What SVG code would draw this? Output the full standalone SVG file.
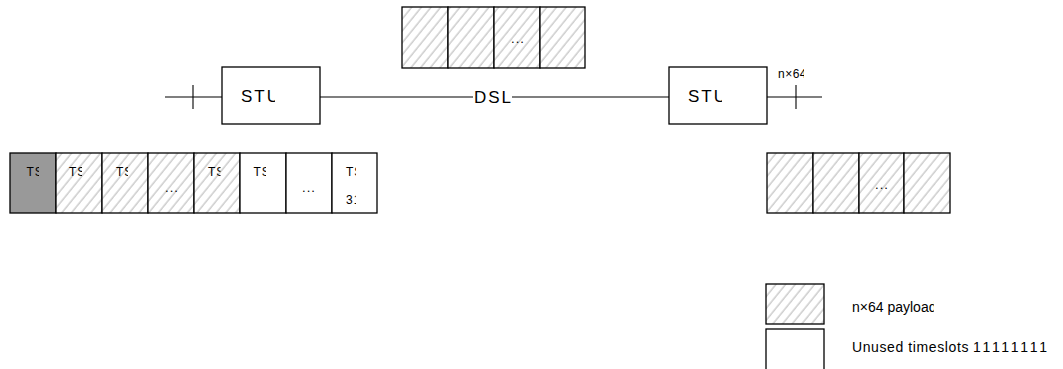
<svg xmlns="http://www.w3.org/2000/svg" width="1063" height="369" viewBox="0 0 1063 369">
<style>
.box{fill:#fff;stroke:#000;stroke-width:1.3}
.hat{fill:url(#hatch);stroke:#000;stroke-width:1.3}
.gray{fill:#999;stroke:#000;stroke-width:1.3}
.ln{stroke:#000;stroke-width:1.1;fill:none}
text{font-family:"Liberation Sans",Arial,sans-serif;fill:#000}
.big{font-size:17px;letter-spacing:2px}
.ts{font-size:12px;letter-spacing:1px}
.sm{font-size:12px;letter-spacing:0.5px}
.lg{font-size:14px}
.lgs{font-size:14px;letter-spacing:0.6px}
.dots{font-size:13px;text-anchor:middle;letter-spacing:1px}
</style>
<defs>
<pattern id="hatch" patternUnits="userSpaceOnUse" width="7.5" height="10" patternTransform="rotate(39)">
<rect width="7.5" height="10" fill="#fff"/>
<line x1="2" y1="0" x2="2" y2="10" stroke="#bbb" stroke-width="1.1"/>
</pattern>
<clipPath id="cStu1"><rect x="230" y="80" width="45" height="30"/></clipPath>
<clipPath id="cStu2"><rect x="677" y="80" width="45" height="30"/></clipPath>
<clipPath id="cN64"><rect x="770" y="64" width="34" height="18"/></clipPath>
<clipPath id="cT1"><rect x="20" y="160" width="19" height="40"/></clipPath>
<clipPath id="cT2"><rect x="64" y="160" width="18" height="40"/></clipPath>
<clipPath id="cT3"><rect x="110" y="160" width="18" height="40"/></clipPath>
<clipPath id="cT5"><rect x="202" y="160" width="18.5" height="40"/></clipPath>
<clipPath id="cT6"><rect x="248" y="160" width="18" height="40"/></clipPath>
<clipPath id="cT8"><rect x="340" y="160" width="16" height="50"/></clipPath>
<clipPath id="cLeg"><rect x="845" y="295" width="89" height="25"/></clipPath>
</defs>

<g id="connectors">
<line class="ln" x1="165" y1="97" x2="222" y2="97"/>
<line class="ln" x1="193" y1="85" x2="193" y2="109"/>
<line class="ln" x1="320" y1="97" x2="473" y2="97"/>
<line class="ln" x1="512" y1="97" x2="669" y2="97"/>
<line class="ln" x1="767" y1="97" x2="822" y2="97"/>
<line class="ln" x1="796" y1="85" x2="796" y2="109"/>
<text class="big" x="474" y="103">DSL</text>
<text class="sm" x="778" y="78" clip-path="url(#cN64)">n×64</text>
</g>

<g id="top-frames">
<rect class="hat" x="402" y="7" width="46" height="61"/>
<rect class="hat" x="448" y="7" width="46" height="61"/>
<rect class="hat" x="494" y="7" width="46" height="61"/>
<rect class="hat" x="540" y="7" width="45" height="61"/>
<text class="dots" x="518" y="43">...</text>
</g>

<g id="stu-left">
<rect class="box" x="222" y="67" width="98" height="57"/>
<text class="big" x="241" y="102" clip-path="url(#cStu1)">STU</text>
</g>

<g id="stu-right">
<rect class="box" x="669" y="67" width="98" height="57"/>
<text class="big" x="688" y="102" clip-path="url(#cStu2)">STU</text>
</g>

<g id="timeslots-left">
<rect class="gray" x="10" y="153" width="46" height="60"/>
<rect class="hat" x="56" y="153" width="46" height="60"/>
<rect class="hat" x="102" y="153" width="46" height="60"/>
<rect class="hat" x="148" y="153" width="46" height="60"/>
<rect class="hat" x="194" y="153" width="46" height="60"/>
<rect class="box" x="240" y="153" width="46" height="60"/>
<rect class="box" x="286" y="153" width="46" height="60"/>
<rect class="box" x="332" y="153" width="45" height="60"/>
<text class="ts" x="26.5" y="176" clip-path="url(#cT1)">TS0</text>
<text class="ts" x="69" y="176" clip-path="url(#cT2)">TS1</text>
<text class="ts" x="116" y="176" clip-path="url(#cT3)">TS2</text>
<text class="dots" x="172" y="192">...</text>
<text class="ts" x="208" y="176" clip-path="url(#cT5)">TS</text>
<text class="ts" x="253.5" y="176" clip-path="url(#cT6)">TS</text>
<text class="dots" x="309" y="192">...</text>
<text class="ts" x="346" y="176" clip-path="url(#cT8)">TS</text>
<text class="ts" x="346" y="204" clip-path="url(#cT8)">31</text>
</g>

<g id="timeslots-right">
<rect class="hat" x="767" y="153" width="46" height="60"/>
<rect class="hat" x="813" y="153" width="46" height="60"/>
<rect class="hat" x="859" y="153" width="45" height="60"/>
<rect class="hat" x="904" y="153" width="46" height="60"/>
<text class="dots" x="882" y="189">...</text>
</g>

<g id="legend-payload">
<rect class="hat" x="766" y="284" width="58" height="40"/>
<text class="lg" x="852" y="312" clip-path="url(#cLeg)">n×64 payload</text>
</g>

<g id="legend-unused">
<rect class="box" x="766" y="329" width="58" height="45"/>
<text class="lgs" x="852" y="352">Unused timeslots</text>
<text class="lg" x="973" y="352" textLength="74" lengthAdjust="spacing">11111111</text>
</g>
</svg>
